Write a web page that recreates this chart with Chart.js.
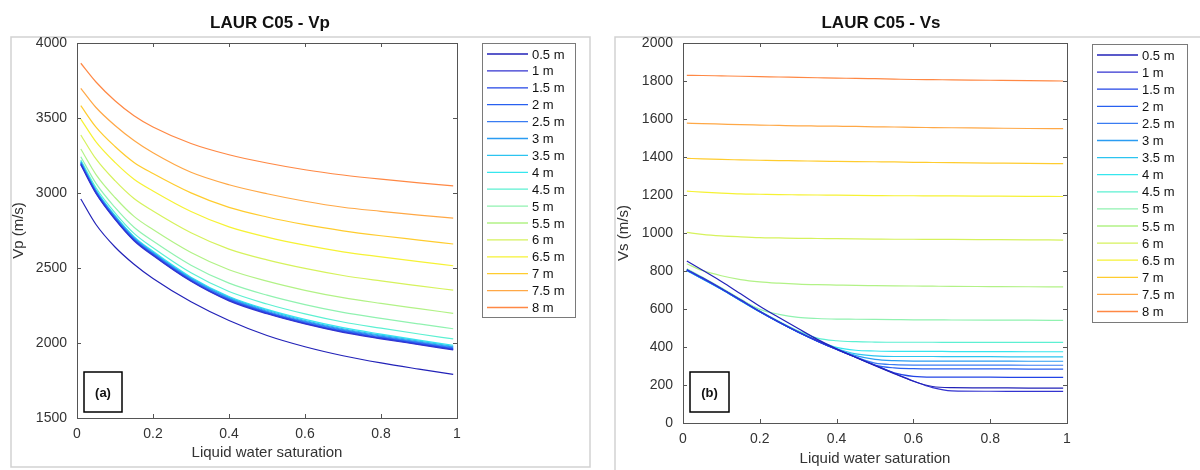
<!DOCTYPE html>
<html>
<head>
<meta charset="utf-8">
<script src="https://cdn.jsdelivr.net/npm/chart.js@4.4.1/dist/chart.umd.min.js"></script>
<style>
  body { margin: 0; background: #fff; width: 1200px; height: 470px; overflow: hidden; position: relative; }
  .panel { position: absolute; top: 0; width: 600px; height: 470px; }
  #left { left: 0; }
  #right { left: 600px; }
</style>
</head>
<body>
<div class="panel" id="left"><canvas id="vp-chart" width="600" height="470"></canvas></div>
<div class="panel" id="right"><canvas id="vs-chart" width="600" height="470"></canvas></div>
<script>
const depthLabels = ["0.5 m", "1 m", "1.5 m", "2 m", "2.5 m", "3 m", "3.5 m", "4 m",
  "4.5 m", "5 m", "5.5 m", "6 m", "6.5 m", "7 m", "7.5 m", "8 m"];

// Vp (m/s) vs liquid water saturation
const vpSat = [0.01, 0.05, 0.1, 0.15, 0.2, 0.3, 0.4, 0.5, 0.6, 0.7, 0.8, 0.9, 0.99];
const vp_0_5 = [2960, 2790, 2640, 2525, 2430, 2275, 2150, 2050, 1975, 1915, 1867, 1826, 1791];
const vp_1   = [3188, 2997, 2824, 2682, 2583, 2411, 2281, 2195, 2127, 2071, 2028, 1989, 1954];
const vp_1_5 = [3192, 3001, 2828, 2686, 2587, 2415, 2285, 2199, 2131, 2075, 2032, 1993, 1958];
const vp_2   = [3196, 3005, 2832, 2690, 2591, 2419, 2289, 2203, 2135, 2079, 2036, 1997, 1962];
const vp_2_5 = [3200, 3009, 2836, 2694, 2596, 2423, 2294, 2207, 2140, 2084, 2041, 2002, 1967];
const vp_3   = [3204, 3013, 2841, 2699, 2600, 2428, 2298, 2212, 2144, 2089, 2046, 2006, 1972];
const vp_3_5 = [3208, 3017, 2845, 2704, 2605, 2433, 2304, 2218, 2150, 2095, 2052, 2012, 1978];
const vp_4   = [3212, 3022, 2850, 2709, 2611, 2439, 2310, 2224, 2157, 2102, 2059, 2019, 1985];
const vp_4_5 = [3220, 3035, 2868, 2731, 2635, 2468, 2343, 2260, 2194, 2140, 2099, 2060, 2027];
const vp_5   = [3242, 3064, 2904, 2772, 2680, 2519, 2399, 2319, 2256, 2204, 2164, 2127, 2095];
const vp_5_5 = [3293, 3123, 2970, 2844, 2756, 2603, 2488, 2412, 2351, 2302, 2264, 2229, 2198];
const vp_6   = [3387, 3227, 3082, 2963, 2880, 2735, 2626, 2554, 2497, 2450, 2414, 2381, 2352];
const vp_6_5 = [3493, 3341, 3204, 3092, 3014, 2877, 2774, 2706, 2652, 2608, 2574, 2542, 2515];
const vp_7   = [3582, 3439, 3310, 3204, 3130, 3001, 2904, 2840, 2789, 2748, 2715, 2686, 2660];
const vp_7_5 = [3698, 3570, 3450, 3350, 3268, 3138, 3055, 2995, 2945, 2905, 2878, 2853, 2833];
const vp_8   = [3865, 3740, 3615, 3515, 3440, 3330, 3255, 3200, 3155, 3120, 3092, 3068, 3047];

// Vs (m/s) vs liquid water saturation
const vsSat = [0.01, 0.05, 0.1, 0.15, 0.2, 0.25, 0.3, 0.35, 0.4, 0.45, 0.5, 0.55, 0.6, 0.65, 0.7, 0.8, 0.9, 0.99];
const vs_0_5 = [853, 805, 745, 680, 615, 555, 497, 440, 390, 345, 302, 260, 220, 192, 186, 185, 184, 184];
const vs_1   = [808, 765, 708, 648, 588, 532, 480, 432, 388, 346, 304, 262, 221, 186, 169, 167, 166, 166];
const vs_1_5 = [806, 763, 707, 647, 587, 531, 479, 431, 387, 346, 304, 264, 245, 241, 241, 241, 240, 240];
const vs_2   = [805, 762, 706, 646, 586, 530, 478, 431, 388, 346, 305, 290, 286, 285, 285, 285, 284, 284];
const vs_2_5 = [804, 761, 705, 645, 586, 530, 478, 431, 388, 348, 315, 307, 305, 305, 305, 305, 304, 304];
const vs_3   = [804, 760, 705, 645, 585, 530, 478, 431, 389, 355, 335, 328, 326, 326, 326, 326, 325, 325];
const vs_3_5 = [803, 760, 704, 644, 585, 530, 478, 432, 392, 364, 353, 350, 350, 350, 349, 349, 348, 348];
const vs_4   = [803, 760, 704, 644, 585, 530, 479, 435, 398, 383, 379, 377, 377, 377, 376, 376, 375, 375];
const vs_4_5 = [808, 764, 708, 648, 589, 535, 485, 447, 433, 428, 426, 425, 425, 425, 424, 424, 424, 424];
const vs_5   = [812, 768, 712, 652, 598, 572, 556, 550, 547, 546, 545, 544, 543, 543, 542, 541, 541, 540];
const vs_5_5 = [838, 803, 775, 755, 743, 736, 731, 728, 726, 724, 723, 722, 721, 720, 719, 718, 717, 716];
const vs_6   = [1003, 993, 985, 980, 976, 974, 972, 971, 970, 969, 968, 967, 967, 966, 966, 965, 964, 963];
const vs_6_5 = [1220, 1215, 1210, 1206, 1204, 1202, 1201, 1200, 1199, 1198, 1197, 1196, 1196, 1195, 1195, 1194, 1193, 1192];
const vs_7   = [1393, 1390, 1387, 1385, 1383, 1381, 1380, 1378, 1377, 1376, 1375, 1374, 1372, 1371, 1370, 1368, 1366, 1365];
const vs_7_5 = [1578, 1576, 1573, 1570, 1568, 1566, 1564, 1563, 1562, 1561, 1559, 1558, 1556, 1555, 1554, 1552, 1550, 1549];
const vs_8   = [1830, 1829, 1827, 1825, 1823, 1821, 1819, 1817, 1815, 1814, 1812, 1810, 1808, 1807, 1806, 1804, 1802, 1800];

const vpRows = [vp_0_5, vp_1, vp_1_5, vp_2, vp_2_5, vp_3, vp_3_5, vp_4, vp_4_5, vp_5, vp_5_5, vp_6, vp_6_5, vp_7, vp_7_5, vp_8];
const vsRows = [vs_0_5, vs_1, vs_1_5, vs_2, vs_2_5, vs_3, vs_3_5, vs_4, vs_4_5, vs_5, vs_5_5, vs_6, vs_6_5, vs_7, vs_7_5, vs_8];

const lineColors = ["#2222b8", "#3333d0", "#2244e6", "#2860f0", "#3a7cf2", "#2a9cf2", "#2cc4f0", "#36e6ee",
  "#5cf0d2", "#90f2b0", "#b2f286", "#d6f25c", "#f6f234", "#ffcc2e", "#ffa846", "#ff8844"];

const FONT = '"Liberation Sans", Arial, sans-serif';
const TEXT = "#333";

function makeDatasets(xs, rows) {
  return depthLabels.map((label, i) => ({
    label: label,
    data: xs.map((x, j) => ({ x: x, y: rows[i][j] })),
    borderColor: lineColors[i],
    borderWidth: 1.2,
    pointRadius: 0,
    fill: false,
    cubicInterpolationMode: "monotone",
  }));
}

// frame, axes box with inward ticks, title, panel tag and legend box
const decor = {
  id: "decor",
  beforeDraw(chart, args, o) {
    const ctx = chart.ctx;
    ctx.save();
    ctx.fillStyle = "#fff";
    ctx.fillRect(0, 0, chart.width, chart.height);
    ctx.strokeStyle = "#d2d2d2";
    ctx.lineWidth = 1.5;
    ctx.strokeRect(o.frame[0], o.frame[1], o.frame[2], o.frame[3]);
    ctx.restore();
  },
  afterDraw(chart, args, o) {
    const ctx = chart.ctx;
    const a = chart.chartArea;
    const sx = chart.scales.x, sy = chart.scales.y;
    ctx.save();
    ctx.strokeStyle = "#555";
    ctx.lineWidth = 1;
    ctx.strokeRect(Math.round(a.left) + 0.5, Math.round(a.top) + 0.5,
      Math.round(a.right - a.left), Math.round(a.bottom - a.top));
    ctx.beginPath();
    sx.ticks.forEach((t) => {
      const px = Math.round(sx.getPixelForValue(t.value)) + 0.5;
      ctx.moveTo(px, a.bottom); ctx.lineTo(px, a.bottom - 4);
      ctx.moveTo(px, a.top); ctx.lineTo(px, a.top + 4);
    });
    sy.ticks.forEach((t) => {
      const py = Math.round(sy.getPixelForValue(t.value)) + 0.5;
      ctx.moveTo(a.left, py); ctx.lineTo(a.left + 4, py);
      ctx.moveTo(a.right, py); ctx.lineTo(a.right - 4, py);
    });
    ctx.stroke();

    // title
    ctx.fillStyle = "#111";
    ctx.font = "bold 17px " + FONT;
    ctx.textAlign = "center";
    ctx.textBaseline = "middle";
    ctx.fillText(o.title, o.titleX, 23);

    // panel tag
    ctx.strokeStyle = "#000";
    ctx.lineWidth = 1.5;
    ctx.strokeRect(o.tag[0], o.tag[1], o.tag[2], o.tag[3]);
    ctx.font = "bold 13px " + FONT;
    ctx.fillText(o.tagText, o.tag[0] + o.tag[2] / 2, o.tag[1] + o.tag[3] / 2 + 1);

    // legend
    const L = o.legend;
    ctx.fillStyle = "#fff";
    ctx.fillRect(L.x, L.y, L.w, L.h);
    ctx.strokeStyle = "#7a7a7a";
    ctx.lineWidth = 1;
    ctx.strokeRect(L.x + 0.5, L.y + 0.5, L.w, L.h);
    ctx.font = "13px " + FONT;
    ctx.textAlign = "left";
    chart.data.datasets.forEach((ds, i) => {
      const y = L.first + i * L.step;
      ctx.strokeStyle = ds.borderColor;
      ctx.lineWidth = 1.3;
      ctx.beginPath();
      ctx.moveTo(L.x + 5, y); ctx.lineTo(L.x + 46, y);
      ctx.stroke();
      ctx.fillStyle = "#111";
      ctx.fillText(ds.label, L.x + 50, y + 1);
    });
    ctx.restore();
  },
};

function makeChart(id, xs, rows, opts) {
  return new Chart(document.getElementById(id).getContext("2d"), {
    type: "line",
    data: { datasets: makeDatasets(xs, rows) },
    plugins: [decor],
    options: {
      responsive: false,
      animation: false,
      layout: { padding: { left: 0, top: 43, right: opts.padRight, bottom: 0 } },
      plugins: {
        legend: { display: false },
        tooltip: { enabled: false },
        decor: opts.decor,
      },
      scales: {
        x: {
          type: "linear", min: 0, max: 1,
          grid: { display: false, drawTicks: false },
          border: { display: false },
          ticks: {
            stepSize: 0.2, padding: 8, color: TEXT, maxRotation: 0,
            font: { family: FONT, size: 14 },
            callback: (v) => String(Number(v.toFixed(1))),
          },
          title: {
            display: true, text: "Liquid water saturation", color: TEXT,
            font: { family: FONT, size: 15 }, padding: { top: 0, bottom: opts.xTitlePad },
          },
          afterFit: (s) => { s.height = opts.xHeight; },
        },
        y: {
          min: opts.yMin, max: opts.yMax,
          grid: { display: false, drawTicks: false },
          border: { display: false },
          ticks: {
            stepSize: opts.yStep, padding: 10, color: TEXT,
            font: { family: FONT, size: 14 },
            callback: (v) => String(v),
          },
          title: {
            display: true, text: opts.yTitle, color: TEXT,
            font: { family: FONT, size: 15 }, padding: { top: opts.yTitlePad, bottom: 0 },
          },
          afterFit: (s) => { s.width = opts.yWidth; },
        },
      },
    },
  });
}

makeChart("vp-chart", vpSat, vpRows, {
  padRight: 143, xHeight: 52, yWidth: 77, xTitlePad: 8, yTitlePad: 10,
  yMin: 1500, yMax: 4000, yStep: 500, yTitle: "Vp (m/s)",
  decor: {
    frame: [11, 37, 579, 430],
    title: "LAUR C05 - Vp", titleX: 270,
    tag: [84, 372, 38, 40], tagText: "(a)",
    legend: { x: 482, y: 43, w: 93, h: 274, first: 54, step: 16.9 },
  },
});

makeChart("vs-chart", vsSat, vsRows, {
  padRight: 133, xHeight: 47, yWidth: 83, xTitlePad: 2, yTitlePad: 15,
  yMin: 0, yMax: 2000, yStep: 200, yTitle: "Vs (m/s)",
  decor: {
    frame: [15, 37, 700, 500],
    title: "LAUR C05 - Vs", titleX: 281,
    tag: [90, 372, 39, 40], tagText: "(b)",
    legend: { x: 492, y: 44, w: 95, h: 278, first: 55, step: 17.1 },
  },
});
</script>
</body>
</html>
